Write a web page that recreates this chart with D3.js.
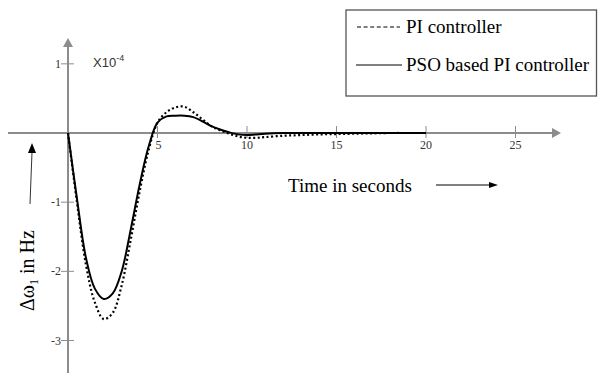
<!DOCTYPE html>
<html>
<head>
<meta charset="utf-8">
<script src="https://cdnjs.cloudflare.com/ajax/libs/d3/7.8.5/d3.min.js"></script>
<style>
  body { margin: 0; background: #fff; }
  svg { display: block; }
</style>
</head>
<body>
<svg width="600" height="373"></svg>
<script>
var time = [0, 0.5, 1, 1.5, 2, 2.5, 3, 3.5, 4, 4.5, 5, 5.5, 6, 6.5, 7, 7.5, 8, 8.5, 9, 9.5, 10, 10.5, 11, 12, 13, 14, 15, 16, 17, 18, 19, 20];
var pso = [0, -0.95, -1.8, -2.25, -2.40, -2.32, -2.0, -1.4, -0.75, -0.2, 0.15, 0.24, 0.25, 0.25, 0.23, 0.17, 0.1, 0.05, 0.01, -0.02, -0.03, -0.02, -0.01, 0, 0, 0, 0, 0, 0, 0, 0, 0];
var pi = [0, -1.0, -1.9, -2.45, -2.69, -2.6, -2.2, -1.55, -0.85, -0.25, 0.15, 0.3, 0.37, 0.38, 0.3, 0.2, 0.1, 0.04, -0.01, -0.05, -0.07, -0.07, -0.06, -0.04, -0.03, -0.02, -0.015, -0.01, -0.005, 0, 0, 0];
var xTicks = [5, 10, 15, 20, 25];
var yTicks = [1, -1, -2, -3];

var svg = d3.select('svg');
var axisColor = "#8c8c8c";

var xScale = d3.scaleLinear().domain([0, 25]).range([68, 515.5]);
var yScale = d3.scaleLinear().domain([-3, 0]).range([340.5, 133]);

///////////////////// AXES ////////////////////
var x0 = xScale(0), y0 = yScale(0);

svg.append("line")
    .attr("x1", 8).attr("x2", 553)
    .attr("y1", y0).attr("y2", y0)
    .attr("stroke", axisColor).attr("stroke-width", 2);
svg.append("path")
    .attr("d", "M552," + (y0 - 5) + "L561," + y0 + "L552," + (y0 + 5) + "Z")
    .attr("fill", axisColor);

svg.append("line")
    .attr("x1", x0).attr("x2", x0)
    .attr("y1", 46).attr("y2", 373)
    .attr("stroke", axisColor).attr("stroke-width", 2);
svg.append("path")
    .attr("d", "M" + (x0 - 5) + ",47L" + x0 + ",38L" + (x0 + 5) + ",47Z")
    .attr("fill", axisColor);

// x ticks
var xt = svg.append("g");
xTicks.forEach(function(d) {
    xt.append("line")
        .attr("x1", xScale(d)).attr("x2", xScale(d))
        .attr("y1", y0 - 7).attr("y2", y0 + 5)
        .attr("stroke", axisColor).attr("stroke-width", 1);
    xt.append("text")
        .attr("x", xScale(d) + (d < 10 ? 1 : 0)).attr("y", y0 + 16)
        .attr("text-anchor", "middle")
        .style("font-family", "Liberation Serif")
        .style("font-size", "12px")
        .attr("fill", "#333")
        .text(d);
});

// y ticks
var yt = svg.append("g");
yTicks.forEach(function(d) {
    yt.append("line")
        .attr("x1", x0 - 7).attr("x2", x0 + 6)
        .attr("y1", yScale(d)).attr("y2", yScale(d))
        .attr("stroke", axisColor).attr("stroke-width", 1);
    yt.append("text")
        .attr("x", x0 - 7).attr("y", yScale(d) + 4)
        .attr("text-anchor", "end")
        .style("font-family", "Liberation Serif")
        .style("font-size", "12px")
        .attr("fill", "#333")
        .text(d);
});

// multiplier
var mult = svg.append("text")
    .attr("x", 93).attr("y", 67)
    .style("font-family", "Liberation Sans")
    .style("font-size", "13px")
    .attr("fill", "#333");
mult.append("tspan").text("X10");
mult.append("tspan").attr("dy", -6).style("font-size", "9px").text("-4");

///////////////////// CURVES ////////////////////
var line = d3.line()
    .x(function(d) { return xScale(d[0]); })
    .y(function(d) { return yScale(d[1]); })
    .curve(d3.curveCatmullRom);

svg.append("path")
    .datum(d3.zip(time, pi))
    .attr("d", line)
    .attr("fill", "none")
    .attr("stroke", "#000")
    .attr("stroke-width", 2.2)
    .attr("stroke-dasharray", "2,2.5");

svg.append("path")
    .datum(d3.zip(time, pso))
    .attr("d", line)
    .attr("fill", "none")
    .attr("stroke", "#000")
    .attr("stroke-width", 2);

///////////////////// LABELS ////////////////////
svg.append("text")
    .attr("x", 288).attr("y", 192)
    .style("font-family", "Liberation Serif")
    .style("font-size", "19px")
    .attr("fill", "#000")
    .text("Time in seconds");
svg.append("line")
    .attr("x1", 436).attr("x2", 490)
    .attr("y1", 185).attr("y2", 185)
    .attr("stroke", "#000").attr("stroke-width", 1);
svg.append("path")
    .attr("d", "M489,182L498,185L489,188Z")
    .attr("fill", "#000");

var yl = svg.append("text")
    .attr("transform", "translate(34,311)rotate(-90)")
    .style("font-family", "Liberation Serif")
    .style("font-size", "20px")
    .attr("fill", "#000");
yl.append("tspan").text("Δω");
yl.append("tspan").attr("dy", 4).style("font-size", "12px").text("1");
yl.append("tspan").attr("dy", -4).text(" in Hz");

svg.append("line")
    .attr("x1", 30).attr("x2", 32)
    .attr("y1", 204).attr("y2", 152)
    .attr("stroke", "#333").attr("stroke-width", 1);
svg.append("path")
    .attr("d", "M28,153L32,143L36,153Z")
    .attr("fill", "#000");

///////////////////// LEGEND ////////////////////
var lg = svg.append("g");
lg.append("rect")
    .attr("x", 346).attr("y", 10)
    .attr("width", 250.5).attr("height", 86)
    .attr("fill", "#fff")
    .attr("stroke", "#555").attr("stroke-width", 1.3);
lg.append("line")
    .attr("x1", 357).attr("x2", 400)
    .attr("y1", 27).attr("y2", 27)
    .attr("stroke", "#000").attr("stroke-width", 1)
    .attr("stroke-dasharray", "4,2.6");
lg.append("text")
    .attr("x", 406).attr("y", 33)
    .style("font-family", "Liberation Serif")
    .style("font-size", "19px")
    .text("PI controller");
lg.append("line")
    .attr("x1", 356).attr("x2", 402)
    .attr("y1", 65).attr("y2", 65)
    .attr("stroke", "#000").attr("stroke-width", 1);
lg.append("text")
    .attr("x", 406).attr("y", 71)
    .style("font-family", "Liberation Serif")
    .style("font-size", "19px")
    .text("PSO based PI controller");
</script>
</body>
</html>
